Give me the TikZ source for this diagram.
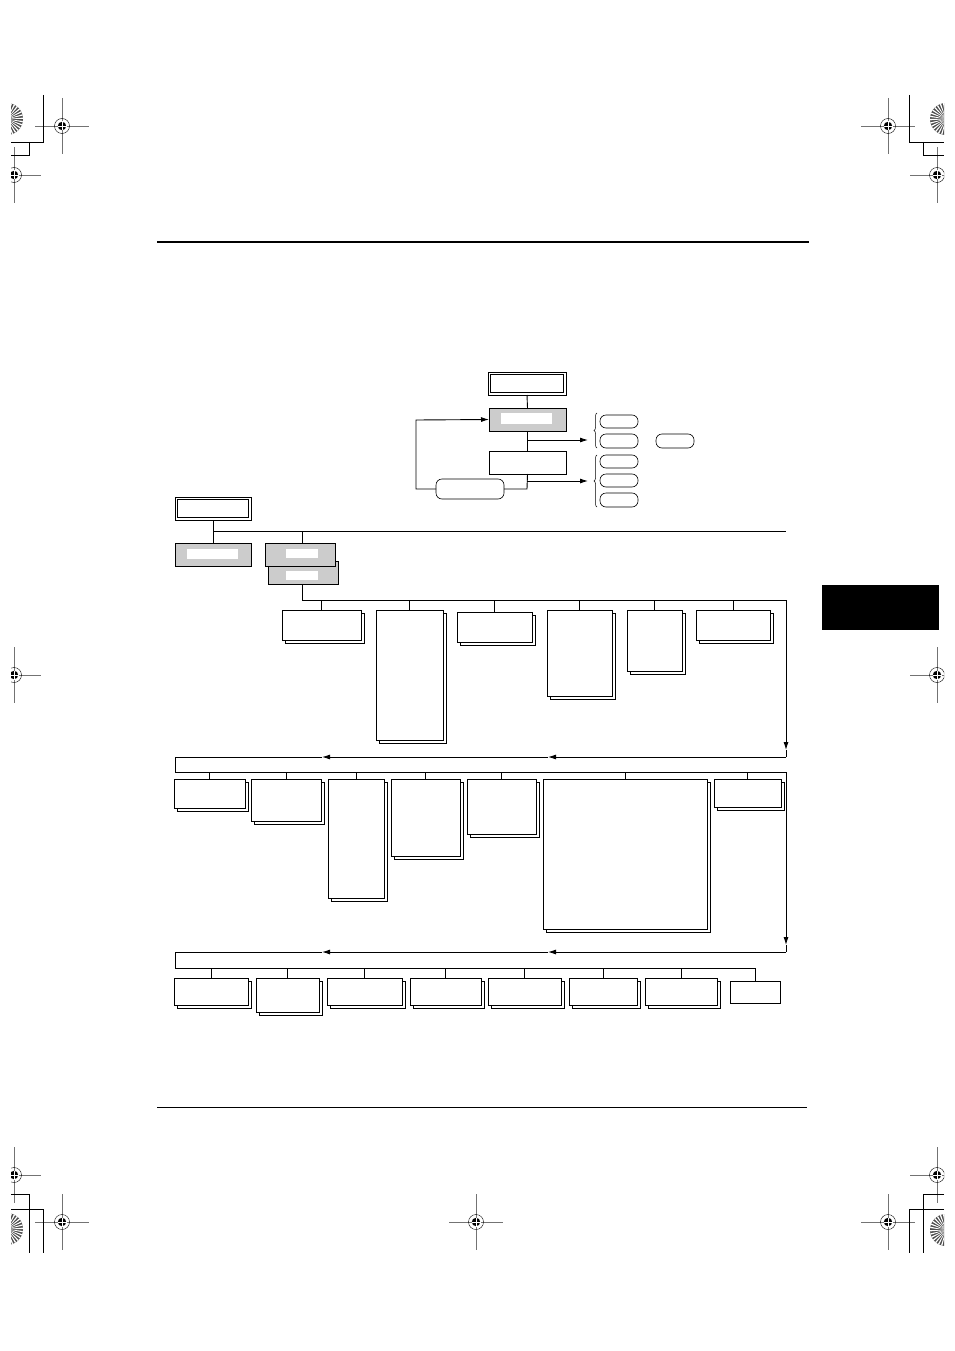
\documentclass[tikz,border=0pt]{standalone}
\usetikzlibrary{arrows.meta,shadows,decorations.pathreplacing}
\definecolor{boxgray}{HTML}{CCCCCC}
\tikzset{
  line/.style={line width=0.9pt},
  arr/.style={line width=0.9pt,-{Latex[length=8pt,width=5pt]}},
  plain/.style={draw,line width=0.9pt,fill=white,inner sep=0pt,outer sep=0pt,anchor=north west},
  shad/.style={plain,copy shadow={shadow xshift=3pt,shadow yshift=-3pt}},
  grayb/.style={draw,line width=0.9pt,fill=boxgray,inner sep=0pt,outer sep=0pt,anchor=north west},
  whiteb/.style={fill=white,inner sep=0pt,outer sep=0pt,anchor=north west},
  pill/.style={draw,line width=0.6pt,rounded corners=6pt,fill=white,inner sep=0pt,outer sep=0pt,anchor=north west},
  brc/.style={decorate,decoration={brace,amplitude=3pt},line width=0.5pt},
  crop/.style={line width=0.8pt},
  regline/.style={line width=0.4pt,black!55},
}
\newcommand\bx[6][plain]{\node[#1,minimum width={(#5-#3)*1pt},minimum height={(#6-#4)*1pt}] (#2) at (#3,#4) {};}
\newcommand\regmk[2]{%
  \draw[regline] ({#1-27},#2)--({#1+27},#2) (#1,{#2-28})--(#1,{#2+28});
  \draw[line width=0.4pt] (#1,#2) circle (7.5pt);
  \fill (#1,#2) circle (4.2pt);
  \draw[white,line width=0.8pt] ({#1-4.5},#2)--({#1+4.5},#2) (#1,{#2-4.5})--(#1,{#2+4.5});}
\newcommand\sunb[2]{%
  \fill[black!70] (#1,#2) circle (16pt);
  \foreach \a in {0,12,...,348}{\fill[white] (#1,#2) -- ++(\a:16pt) arc[start angle=\a,end angle=\a+5,radius=16pt] -- cycle;}}
\begin{document}
\begin{tikzpicture}[x=1pt,y=-1pt]
\useasboundingbox (0,0) rectangle (954,1351);
% ---------- printer's marks ----------
\begin{scope}
\clip (11,0) rectangle (944,1351);
\sunb{7}{119}\sunb{946}{119}\sunb{7}{1229}\sunb{946}{1230}
\regmk{62}{126}\regmk{888}{126}\regmk{14}{175}\regmk{937}{175}
\regmk{14}{675}\regmk{937}{675}\regmk{14}{1175}\regmk{937}{1175}
\regmk{62}{1222}\regmk{888}{1222}\regmk{476}{1222}
\draw[crop] (43,95)--(43,142)--(11,142) (29,142)--(29,155)--(11,155);
\draw[crop] (909,95)--(909,142)--(944,142) (923,142)--(923,155)--(944,155);
\draw[crop] (11,1194)--(29,1194)--(29,1253) (11,1209)--(43,1209)--(43,1253);
\draw[crop] (944,1194)--(923,1194)--(923,1253) (944,1209)--(909,1209)--(909,1253);
\end{scope}
% ---------- rules and tab ----------
\draw[line width=2.6pt] (157,242)--(809,242);
\draw[line width=0.7pt] (157,1107)--(807,1107);
\fill (822,585) rectangle (939,630);
% ---------- top flow ----------
\bx{A}{488}{372}{566}{395}
\node[draw,line width=0.7pt,inner sep=0pt,minimum width=73pt,minimum height=18pt] (Ai) at (A.center) {};
\bx[grayb]{B}{489}{408}{566}{431}
\bx[whiteb]{Bi}{501}{413}{552}{424}
\bx{C}{489}{451}{566}{474}
\bx[pill]{D}{436}{479}{504}{499}
\draw[line] (A.south)--(B.north);
\draw[line] (B.south)--(C.north);
\coordinate (c1) at (527,440);
\coordinate (e1) at (588,440);
\draw[arr] (c1)--(e1);
\coordinate (c2) at (527,489);
\coordinate (c3) at (527,481);
\coordinate (e2) at (588,481);
\draw[line] (C.south)--(c2)--(D.east);
\draw[arr] (c3)--(e2);
\coordinate (lp1) at (416,489);
\coordinate (lp2) at (416,420);
\draw[arr] (D.west)--(lp1)--(lp2)--(B.west);
\draw[brc] (597,448)--(597,413);
\draw[brc] (597,507)--(597,455);
\bx[pill]{p1}{600}{415}{638}{428}
\bx[pill]{p2}{600}{434}{638}{448}
\bx[pill]{p3}{656}{434}{694}{448}
\bx[pill]{p4}{600}{455}{638}{468}
\bx[pill]{p5}{600}{474}{638}{487}
\bx[pill]{p6}{600}{493}{638}{507}
% ---------- main tree ----------
\bx{E}{175}{497}{251}{520}
\node[draw,line width=0.7pt,inner sep=0pt,minimum width=71pt,minimum height=18pt] (Ei) at (E.center) {};
\coordinate (h0a) at (213,531);
\coordinate (h0b) at (786,531);
\coordinate (h0g) at (302,531);
\draw[line] (E.south)--(E.south |- h0a)--(h0b);
\bx[grayb]{F}{175}{543}{251}{566}
\bx[whiteb]{Fi}{187}{549}{238}{559}
\bx[grayb]{H}{268}{561}{338}{584}
\bx[whiteb]{Hi}{286}{571}{318}{580}
\bx[grayb]{G}{265}{543}{335}{566}
\bx[whiteb]{Gi}{286}{549}{318}{558}
\draw[line] (F.north |- h0a)--(F.north);
\draw[line] (h0g)--(h0g |- G.north);
% row 1
\coordinate (t1a) at (302,600);
\coordinate (t1b) at (786,600);
\coordinate (t1c) at (786,750);
\coordinate (t1d) at (786,757);
\coordinate (t1e) at (548,757);
\coordinate (t1f) at (322,757);
\coordinate (t1g) at (175,757);
\draw[line] (t1a |- H.south)--(t1a)--(t1b);
\draw[arr] (t1b)--(t1c);
\draw[line] (t1c)--(t1d);
\draw[arr] (t1d)--(t1e);
\draw[arr] (t1e)--(t1f);
\draw[line] (t1f)--(t1g);
\bx[shad]{r1a}{282}{610}{361}{640}
\bx[shad]{r1b}{376}{610}{443}{740}
\bx[shad]{r1c}{457}{612}{532}{642}
\bx[shad]{r1d}{547}{610}{612}{696}
\bx[shad]{r1e}{627}{610}{682}{671}
\bx[shad]{r1f}{696}{610}{770}{640}
\foreach \n in {r1a,r1b,r1c,r1d,r1e,r1f}{\draw[line] (t1a -| \n.north)--(\n.north);}
% row 2
\coordinate (t2a) at (175,772);
\coordinate (t2b) at (786,772);
\coordinate (t2c) at (786,945);
\coordinate (t2d) at (786,952);
\coordinate (t2e) at (548,952);
\coordinate (t2f) at (322,952);
\coordinate (t2g) at (175,952);
\draw[line] (t1g)--(t2a)--(t2b);
\draw[arr] (t2b)--(t2c);
\draw[line] (t2c)--(t2d);
\draw[arr] (t2d)--(t2e);
\draw[arr] (t2e)--(t2f);
\draw[line] (t2f)--(t2g);
\bx[shad]{r2a}{174}{779}{245}{808}
\bx[shad]{r2b}{251}{779}{321}{821}
\bx[shad]{r2c}{328}{779}{384}{898}
\bx[shad]{r2d}{391}{779}{460}{856}
\bx[shad]{r2e}{467}{779}{536}{834}
\bx[shad]{r2f}{543}{779}{707}{929}
\bx[shad]{r2g}{714}{779}{781}{807}
\foreach \n in {r2a,r2b,r2c,r2d,r2e,r2f,r2g}{\draw[line] (t2a -| \n.north)--(\n.north);}
% row 3
\coordinate (t3a) at (175,968);
\coordinate (t3b) at (755,968);
\draw[line] (t2g)--(t3a)--(t3b);
\bx[shad]{r3a}{174}{978}{248}{1005}
\bx[shad]{r3b}{256}{978}{319}{1012}
\bx[shad]{r3c}{327}{978}{402}{1005}
\bx[shad]{r3d}{410}{978}{481}{1005}
\bx[shad]{r3e}{488}{978}{561}{1005}
\bx[shad]{r3f}{569}{978}{637}{1005}
\bx[shad]{r3g}{645}{978}{717}{1005}
\bx{r3h}{730}{981}{780}{1003}
\foreach \n in {r3a,r3b,r3c,r3d,r3e,r3f,r3g,r3h}{\draw[line] (t3a -| \n.north)--(\n.north);}
\end{tikzpicture}
\end{document}
